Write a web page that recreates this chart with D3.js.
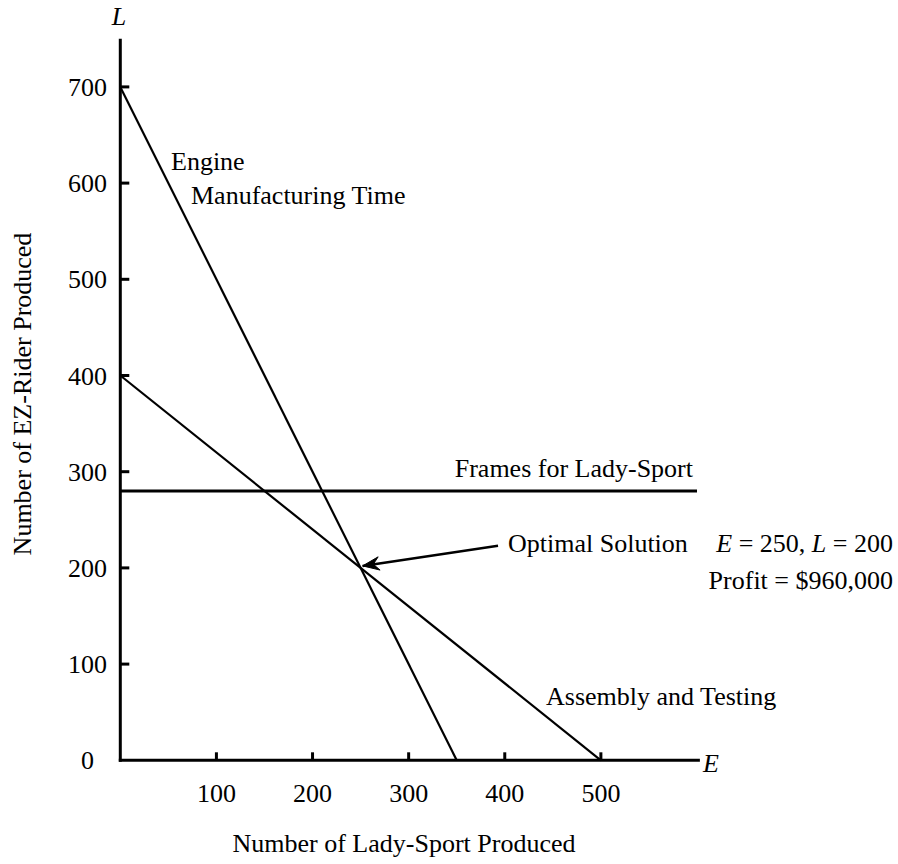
<!DOCTYPE html>
<html>
<head>
<meta charset="utf-8">
<script src="https://cdn.jsdelivr.net/npm/d3@7"></script>
<style>
  html, body { margin: 0; padding: 0; background: #fff; }
  svg { display: block; }
  text { font-family: "Liberation Serif", "Times New Roman", serif; font-size: 26px; fill: #000; }
</style>
</head>
<body>
<svg id="chart" width="898" height="864"></svg>
<script>
// ---- data ----
const xTicks = [100, 200, 300, 400, 500];
const yTicks = [0, 100, 200, 300, 400, 500, 600, 700];
const engineLine = [[0, 700], [350, 0]];        // Engine manufacturing time
const assemblyLine = [[0, 400], [500, 0]];      // Assembly and testing
const framesLine = [[0, 280], [600, 280]];      // Frames for Lady-Sport
const optimal = { E: 250, L: 200, profit: "$960,000" };
const arrowFrom = [393, 223];
const xTitle = "Number of Lady-Sport Produced";
const yTitle = "Number of EZ-Rider Produced";

const svg = d3.select("#chart");
const x = d3.scaleLinear().domain([0, 600]).range([120.3, 697]);
const y = d3.scaleLinear().domain([0, 750]).range([760.3, 38.8]);

// axes lines
svg.append("line").attr("x1", x(0)).attr("x2", x(0)).attr("y1", y(0) + 1.5).attr("y2", y(750))
  .attr("stroke", "#000").attr("stroke-width", 3);
svg.append("line").attr("x1", x(0) - 1.5).attr("x2", x(603)).attr("y1", y(0)).attr("y2", y(0))
  .attr("stroke", "#000").attr("stroke-width", 3);

// y ticks (inward) and labels
yTicks.forEach(v => {
  if (v > 0) {
    svg.append("line").attr("x1", x(0)).attr("x2", x(0) + 9).attr("y1", y(v)).attr("y2", y(v))
      .attr("stroke", "#000").attr("stroke-width", 3);
  }
  svg.append("text").attr("x", v === 0 ? 94 : 107).attr("y", y(v)).attr("dy", "0.35em")
    .attr("text-anchor", "end").text(v);
});

// x ticks (upward) and labels
xTicks.forEach(v => {
  svg.append("line").attr("x1", x(v)).attr("x2", x(v)).attr("y1", y(0)).attr("y2", y(0) - 8)
    .attr("stroke", "#000").attr("stroke-width", 3);
  svg.append("text").attr("x", x(v)).attr("y", 802).attr("text-anchor", "middle").text(v);
});

// axis letters
svg.append("text").attr("x", 119).attr("y", 25).attr("text-anchor", "middle")
  .style("font-style", "italic").text("L");
svg.append("text").attr("x", 703).attr("y", 772).style("font-style", "italic").text("E");

// axis titles
svg.append("text").attr("x", 404).attr("y", 852).attr("text-anchor", "middle").text(xTitle);
svg.append("text").attr("transform", "translate(31,394) rotate(-90)")
  .attr("text-anchor", "middle").text(yTitle);

// constraint lines
const line = d3.line().x(d => x(d[0])).y(d => y(d[1]));
svg.append("path").attr("d", line(engineLine)).attr("fill", "none").attr("stroke", "#000").attr("stroke-width", 2.2);
svg.append("path").attr("d", line(assemblyLine)).attr("fill", "none").attr("stroke", "#000").attr("stroke-width", 2.2);
svg.append("path").attr("d", line(framesLine)).attr("fill", "none").attr("stroke", "#000").attr("stroke-width", 3);

// labels
svg.append("text").attr("x", 171).attr("y", 170).text("Engine");
svg.append("text").attr("x", 191).attr("y", 204).text("Manufacturing Time");
svg.append("text").attr("x", 693).attr("y", 477).attr("text-anchor", "end").text("Frames for Lady-Sport");
svg.append("text").attr("x", 546).attr("y", 705).text("Assembly and Testing");
svg.append("text").attr("x", 508).attr("y", 552).text("Optimal Solution");

const t1 = svg.append("text").attr("x", 893).attr("y", 552).attr("text-anchor", "end");
t1.append("tspan").style("font-style", "italic").text("E");
t1.append("tspan").text(" = " + optimal.E + ", ");
t1.append("tspan").style("font-style", "italic").text("L");
t1.append("tspan").text(" = " + optimal.L);
svg.append("text").attr("x", 893).attr("y", 589).attr("text-anchor", "end").text("Profit = " + optimal.profit);

// arrow
const tip = [x(optimal.E) + 2, y(optimal.L) - 2];
const from = [x(arrowFrom[0]), y(arrowFrom[1])];
svg.append("line").attr("x1", from[0]).attr("y1", from[1]).attr("x2", tip[0]).attr("y2", tip[1])
  .attr("stroke", "#000").attr("stroke-width", 2.5);
const ang = Math.atan2(from[1] - tip[1], from[0] - tip[0]);
const hl = 18, hw = 0.38;
const p1 = [tip[0] + hl * Math.cos(ang + hw), tip[1] + hl * Math.sin(ang + hw)];
const p2 = [tip[0] + hl * Math.cos(ang - hw), tip[1] + hl * Math.sin(ang - hw)];
const back = [tip[0] + hl * 0.6 * Math.cos(ang), tip[1] + hl * 0.6 * Math.sin(ang)];
svg.append("path").attr("d", `M${p1[0]},${p1[1]}L${tip[0]},${tip[1]}L${p2[0]},${p2[1]}L${back[0]},${back[1]}Z`)
  .attr("fill", "#000").attr("stroke", "#000").attr("stroke-width", 1);
</script>
</body>
</html>
